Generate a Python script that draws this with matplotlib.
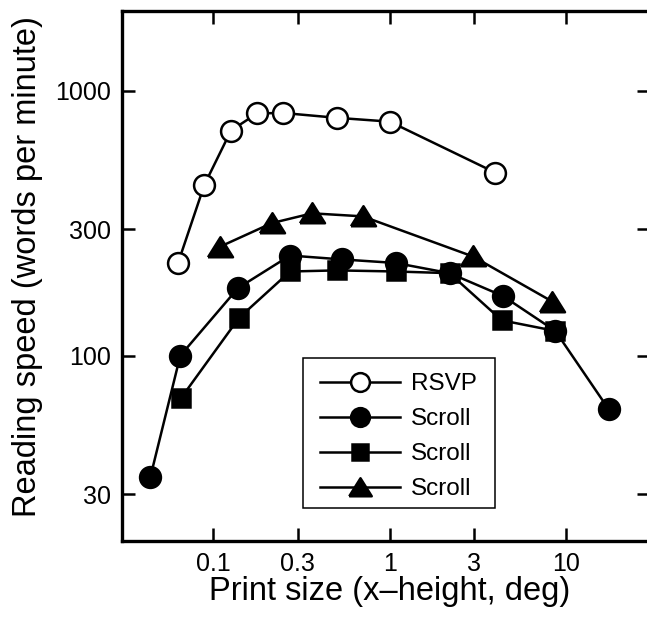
import numpy as np
import matplotlib
matplotlib.use("Agg")
import matplotlib.pyplot as plt
from matplotlib.patches import Rectangle

plt.rcParams["font.family"] = ["Liberation Sans", "DejaVu Sans"]

# print size (deg) and reading speed (wpm)
rsvp_x = [0.063, 0.089, 0.126, 0.177, 0.248, 0.50, 1.0, 3.95]
rsvp_y = [223, 442, 709, 823, 826, 792, 766, 492]

scroll_circle_x = [0.044, 0.065, 0.138, 0.272, 0.537, 1.08, 2.18, 4.38, 8.67, 17.4]
scroll_circle_y = [34.8, 100, 180, 239, 231, 224, 205, 168, 124, 62.7]

scroll_square_x = [0.066, 0.140, 0.272, 0.503, 1.08, 2.18, 4.31, 8.67]
scroll_square_y = [69.5, 139, 208, 210, 208, 205, 136, 124]

scroll_tri_x = [0.109, 0.215, 0.363, 0.703, 2.96, 8.35]
scroll_tri_y = [258, 317, 345, 336, 237, 160]

x_ticks = [0.1, 0.3, 1, 3, 10]
x_tick_labels = ["0.1", "0.3", "1", "3", "10"]
y_ticks = [30, 100, 300, 1000]
y_tick_labels = ["30", "100", "300", "1000"]

LW = 1.8
MEW = 1.8
TRIANGLE = [(-1, -0.78), (1, -0.78), (0, 0.82), (-1, -0.78)]


def main():
    fig = plt.figure(figsize=(6.47, 6.18), dpi=100)
    ax = fig.add_axes([0.189, 0.1251, 0.8164, 0.8566])

    ax.plot(rsvp_x, rsvp_y, color="black", lw=LW, marker="o", ms=15,
            mfc="white", mec="black", mew=MEW, label="RSVP")
    ax.plot(scroll_circle_x, scroll_circle_y, color="black", lw=LW, marker="o",
            ms=15, mfc="black", mec="black", mew=MEW, label="Scroll")
    ax.plot(scroll_square_x, scroll_square_y, color="black", lw=LW, marker="s",
            ms=12.5, mfc="black", mec="black", mew=MEW, label="Scroll")
    ax.plot(scroll_tri_x, scroll_tri_y, color="black", lw=LW, marker=TRIANGLE,
            ms=18, mfc="black", mec="black", mew=MEW, label="Scroll")

    ax.set_xscale("log")
    ax.set_yscale("log")
    ax.set_xlim(0.0305, 30)
    ax.set_ylim(20, 2000)

    ax.set_xticks(x_ticks)
    ax.set_xticklabels(x_tick_labels)
    ax.set_yticks(y_ticks)
    ax.set_yticklabels(y_tick_labels)
    ax.minorticks_off()
    ax.tick_params(which="major", direction="in", length=9.4, width=1.8,
                   labelsize=18, pad=8, top=True, right=True)

    for spine in ax.spines.values():
        spine.set_linewidth(2.4)

    ax.set_xlabel("Print size (x\u2013height, deg)", fontsize=23.5)
    ax.set_ylabel("Reading speed (words per minute)", fontsize=23.5)
    ax.xaxis.set_label_coords(0.506, -0.066)
    ax.yaxis.set_label_coords(-0.179, 0.518)
    ax.yaxis.label.set_va("center")

    leg = ax.legend(loc="upper left", bbox_to_anchor=(0.3743, 0.316),
                    frameon=False, fontsize=17.5, borderpad=0,
                    borderaxespad=0, handlelength=3.3, handletextpad=0.45,
                    labelspacing=0.53, markerscale=0.9)
    ax.add_patch(Rectangle((0.3427, 0.0612), 0.3635, 0.2833,
                           transform=ax.transAxes, fill=False,
                           edgecolor="black", lw=1.1, zorder=5))

    fig.savefig("out.png", dpi=100)


if __name__ == "__main__":
    main()
